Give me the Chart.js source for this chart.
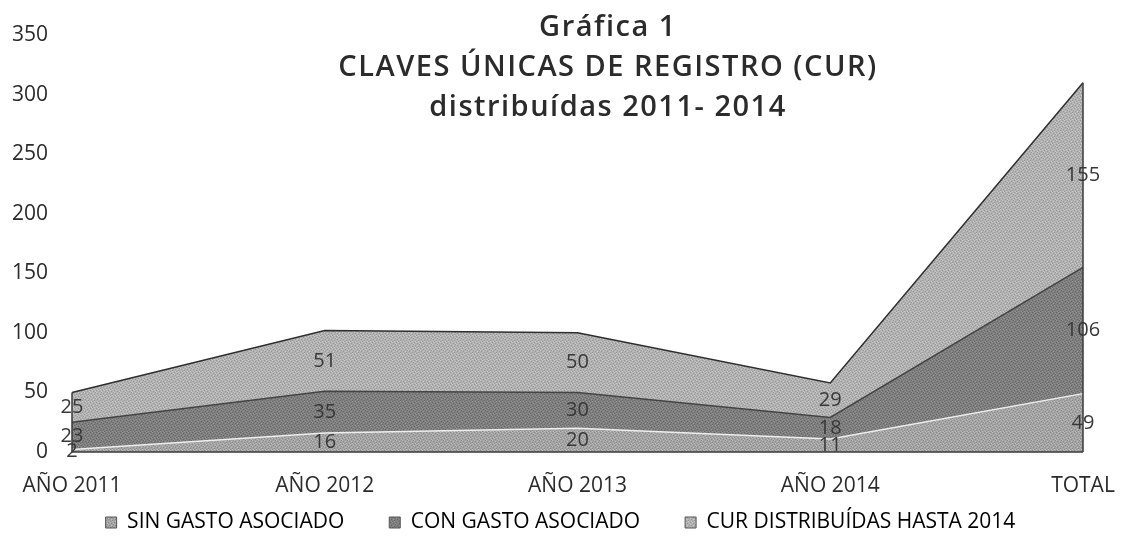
<!DOCTYPE html>
<html>
<head>
<meta charset="utf-8">
<script src="https://cdn.jsdelivr.net/npm/chart.js@4/dist/chart.umd.min.js"></script>
<style>
    html, body { margin: 0; padding: 0; background: #fff; }
    .wrap { position: relative; width: 1121px; height: 542px; }
    .chart-title {
        position: absolute; left: 308px; top: 5px; width: 600px;
        text-align: center; font-family: "Open Sans", sans-serif; font-weight: 600;
        font-size: 29px; line-height: 40px; letter-spacing: 1.5px; color: #2b2b2b;
    }
</style>
</head>
<body>
<div class="wrap">
    <canvas id="chart" width="1121" height="542"></canvas>
    <div class="chart-title">Gráfica 1<br>CLAVES ÚNICAS DE REGISTRO (CUR)<br>distribuídas 2011- 2014</div>
</div>
<script>
var categories = ["AÑO 2011", "AÑO 2012", "AÑO 2013", "AÑO 2014", "TOTAL"];
var seriesNames = ["SIN GASTO ASOCIADO", "CON GASTO ASOCIADO", "CUR DISTRIBUÍDAS HASTA 2014"];
var sinGasto = [2, 16, 20, 11, 49];
var conGasto = [23, 35, 30, 18, 106];
var curDistribuidas = [25, 51, 50, 29, 155];
var yTicks = [0, 50, 100, 150, 200, 250, 300, 350];

var FONT = "'Open Sans', sans-serif";

// grainy fill like the printed original
function grain(base, dark, light) {
    let c = document.createElement("canvas");
    c.width = 6; c.height = 6;
    let g = c.getContext("2d");
    g.fillStyle = base;
    g.fillRect(0, 0, 6, 6);
    g.fillStyle = dark;
    [[0, 0], [3, 1], [1, 3], [4, 4], [5, 2], [2, 5]].forEach(p => g.fillRect(p[0], p[1], 1, 1));
    g.fillStyle = light;
    [[2, 0], [5, 1], [0, 2], [3, 3], [1, 5], [4, 5]].forEach(p => g.fillRect(p[0], p[1], 1, 1));
    return g.createPattern(c, "repeat");
}

// value labels in the middle of each stacked band + closing edges
var bandLabels = {
    id: "bandLabels",
    afterDatasetsDraw(chart) {
        let ctx = chart.ctx;
        let x = chart.scales.x, y = chart.scales.y;
        let last = categories.length - 1;
        let sumAt = i => chart.data.datasets.reduce((s, ds) => s + ds.data[i], 0);
        ctx.save();
        ctx.strokeStyle = "#3a3a3a";
        ctx.lineWidth = 1.5;
        [0, last].forEach(i => {
            ctx.beginPath();
            ctx.moveTo(x.getPixelForValue(i), y.getPixelForValue(0));
            ctx.lineTo(x.getPixelForValue(i), y.getPixelForValue(sumAt(i)));
            ctx.stroke();
        });
        ctx.beginPath();
        ctx.moveTo(x.getPixelForValue(0), y.getPixelForValue(0));
        ctx.lineTo(x.getPixelForValue(last), y.getPixelForValue(0));
        ctx.stroke();

        ctx.font = "20px " + FONT;
        ctx.fillStyle = "#383838";
        ctx.textAlign = "center";
        ctx.textBaseline = "middle";
        categories.forEach((c, i) => {
            let base = 0;
            chart.data.datasets.forEach(ds => {
                let v = ds.data[i];
                ctx.fillText(String(v), x.getPixelForValue(i), y.getPixelForValue(base + v / 2));
                base += v;
            });
        });
        ctx.restore();
    }
};

// legend row sits low but keeps the wide item spacing;
// x labels are allowed to hang below their thin axis box
var layoutTweaks = {
    id: "layoutTweaks",
    afterInit(chart) {
        let legend = chart.legend;
        let fit = legend.fit;
        legend.fit = function () { fit.call(this); this.height = 75; };
    },
    afterLayout(chart) {
        chart.scales.x.bottom = chart.height;
    }
};

var ctx = document.getElementById("chart").getContext("2d");
var chart = new Chart(ctx, {
    type: "line",
    data: {
        labels: categories,
        datasets: [{
            label: seriesNames[0],
            data: sinGasto,
            fill: "origin",
            backgroundColor: grain("#a3a3a3", "#8a8a8a", "#bdbdbd"),
            borderColor: "#eeeeee",
            borderWidth: 1.5
        }, {
            label: seriesNames[1],
            data: conGasto,
            fill: "-1",
            backgroundColor: grain("#7e7e7e", "#666666", "#959595"),
            borderColor: "#444444",
            borderWidth: 1.5
        }, {
            label: seriesNames[2],
            data: curDistribuidas,
            fill: "-1",
            backgroundColor: grain("#b1b1b1", "#979797", "#cacaca"),
            borderColor: "#2e2e2e",
            borderWidth: 1.5
        }]
    },
    options: {
        responsive: false,
        animation: false,
        elements: { point: { radius: 0 }, line: { tension: 0 } },
        layout: { padding: { top: 35, right: 0, left: 0, bottom: 0 } },
        plugins: {
            title: { display: false },
            tooltip: { enabled: false },
            legend: {
                position: "bottom",
                labels: {
                    color: "#2b2b2b",
                    font: { family: FONT, size: 21 },
                    boxWidth: 11, boxHeight: 11,
                    padding: 45,
                    generateLabels(chart) {
                        return chart.data.datasets.map((ds, i) => ({
                            text: ds.label,
                            fillStyle: ds.backgroundColor,
                            strokeStyle: "#555",
                            lineWidth: 1,
                            datasetIndex: i
                        }));
                    }
                }
            }
        },
        scales: {
            x: {
                offset: false,
                grid: { display: false, drawTicks: false },
                border: { display: false },
                afterFit(scale) {
                    scale.height = 15;
                    scale.paddingLeft = 0;
                    scale.paddingRight = 38;
                },
                ticks: {
                    color: "#2b2b2b",
                    font: { family: FONT, size: 21 },
                    padding: 21, maxRotation: 0, autoSkip: false
                }
            },
            y: {
                stacked: true,
                min: 0, max: 350,
                grid: { display: false, drawTicks: false },
                border: { display: false },
                afterBuildTicks(scale) { scale.ticks = yTicks.map(v => ({ value: v })); },
                afterFit(scale) {
                    scale.width = 72;
                    scale.paddingTop = 0;
                    scale.paddingBottom = 0;
                },
                ticks: {
                    color: "#2b2b2b",
                    font: { family: FONT, size: 21 },
                    padding: 24
                }
            }
        }
    },
    plugins: [bandLabels, layoutTweaks]
});
</script>
</body>
</html>
